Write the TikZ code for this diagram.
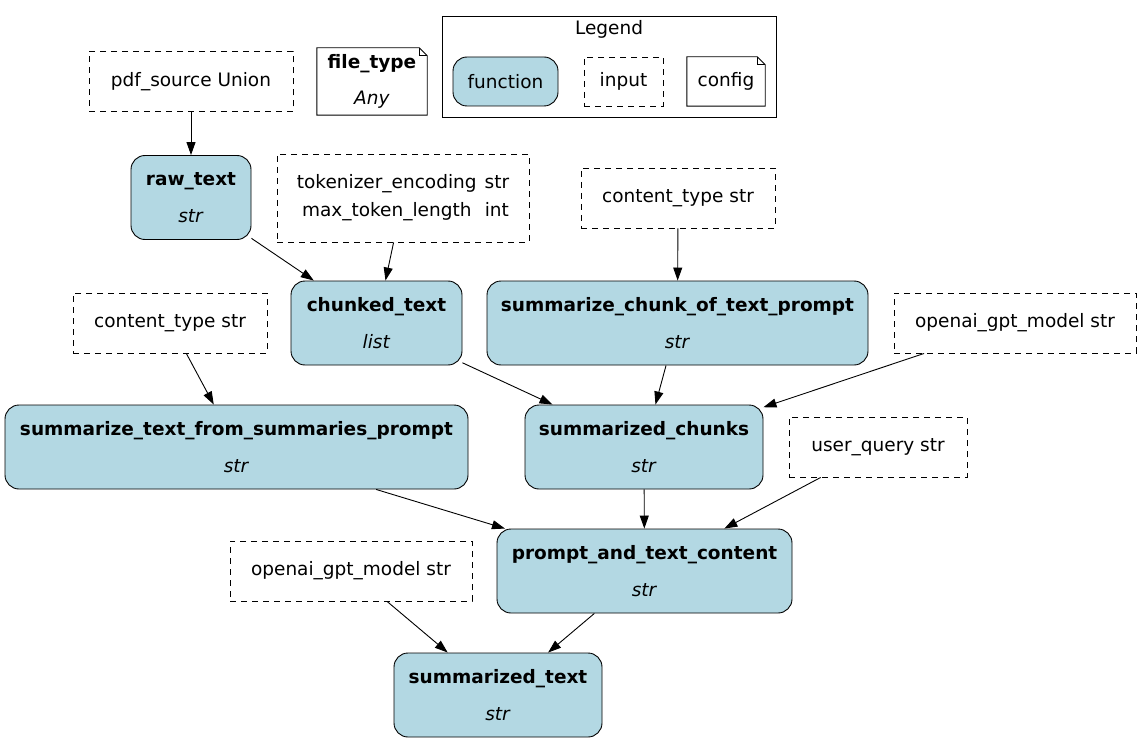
\documentclass[tikz,border=0pt]{standalone}
\usepackage{fontspec}
\setmainfont{DejaVu Sans}
\usetikzlibrary{arrows.meta, positioning}
\definecolor{fnblue}{HTML}{B3D8E3}

\begin{document}
\begin{tikzpicture}[x=1pt, y=-1pt, font=\fontsize{18.5}{22.2}\selectfont,
  func/.style={draw, fill=fnblue, rounded corners=14pt, line width=0.9pt, inner sep=0pt, minimum height=84pt, align=center},
  input/.style={draw, dash pattern=on 6pt off 5pt, line width=0.9pt, inner sep=0pt, minimum height=60pt, align=center},
  cfg/.style={inner sep=0pt, align=center},
  edge/.style={-{Triangle[length=13pt, width=9pt]}, line width=0.9pt}]
  \useasboundingbox (0,0) rectangle (1142,743);

  % legend
  \node[draw, line width=0.9pt, inner sep=0pt, minimum width=334pt, minimum height=101pt] (legend) at (609,66.5) {};
  \node (legendtitle) at (609,29.5) {Legend};
  \node[func, minimum width=105pt, minimum height=49pt] (lgfunc) at (505.5,81.5) {function};
  \node[input, minimum width=79pt, minimum height=49pt] (lginput) at (623.5,81.5) {input};
  \node[cfg, minimum width=78pt, minimum height=49pt] (lgconfig) at (726,81.5) {config};

  \node[input, minimum width=204pt] (pdfsource) at (191,81.5) {pdf\_source Union};
  \node[cfg, minimum width=110pt, minimum height=67pt] (filetype) at (372,81.5) {\textbf{file\_type}\\[13.8pt]\textit{Any}};

  \node[func, minimum width=120pt] (rawtext) at (191,197.5) {\textbf{raw\_text}\\[14.5pt]\textit{str}};
  \node[input, minimum width=252pt, minimum height=88pt] (tokenizer) at (403,198)
    {\begin{tabular}{@{}c@{\hspace{8pt}}c@{}}tokenizer\_encoding & str\\[5.8pt] max\_token\_length & int\end{tabular}};
  \node[input, minimum width=194pt] (ctypetop) at (678,198) {content\_type str};

  \node[input, minimum width=194pt] (ctypeleft) at (170,323) {content\_type str};
  \node[func, minimum width=171pt] (chunked) at (376.5,323) {\textbf{chunked\_text}\\[14.5pt]\textit{list}};
  \node[func, minimum width=381pt] (chunkprompt) at (677.5,323) {\textbf{summarize\_chunk\_of\_text\_prompt}\\[14.5pt]\textit{str}};
  \node[input, minimum width=242pt] (modeltop) at (1015,323) {openai\_gpt\_model str};

  \node[func, minimum width=463pt] (summprompt) at (236.5,447) {\textbf{summarize\_text\_from\_summaries\_prompt}\\[14.5pt]\textit{str}};
  \node[func, minimum width=238pt] (summchunks) at (644,447) {\textbf{summarized\_chunks}\\[14.5pt]\textit{str}};
  \node[input, minimum width=178pt] (userquery) at (878,447) {user\_query str};

  \node[input, minimum width=242pt] (modelbot) at (351,571) {openai\_gpt\_model str};
  \node[func, minimum width=295pt] (promptcontent) at (644.5,571) {\textbf{prompt\_and\_text\_content}\\[14.5pt]\textit{str}};

  \node[func, minimum width=208pt] (summtext) at (498,695) {\textbf{summarized\_text}\\[14.5pt]\textit{str}};

  % note outlines
  \foreach \n in {filetype, lgconfig} {
    \draw[line width=0.9pt] (\n.south west) -- (\n.north west) -- ([xshift=-8pt]\n.north east)
      -- ([yshift=-8pt]\n.north east) -- (\n.south east) -- cycle;
    \draw[line width=0.9pt] ([xshift=-8pt]\n.north east) |- ([yshift=-8pt]\n.north east);
  }

  \draw[edge] (pdfsource) -- (rawtext);
  \draw[edge] (rawtext) -- (chunked);
  \draw[edge] (tokenizer) -- (chunked);
  \draw[edge] (ctypetop) -- (chunkprompt);
  \draw[edge] (ctypeleft) -- (summprompt);
  \draw[edge] (chunked) -- (summchunks);
  \draw[edge] (chunkprompt) -- (summchunks);
  \draw[edge] (modeltop) -- (summchunks);
  \draw[edge] (summprompt) -- (promptcontent);
  \draw[edge] (summchunks) -- (promptcontent);
  \draw[edge] (userquery) -- (promptcontent);
  \draw[edge] (modelbot) -- (summtext);
  \draw[edge] (promptcontent) -- (summtext);
\end{tikzpicture}
\end{document}
